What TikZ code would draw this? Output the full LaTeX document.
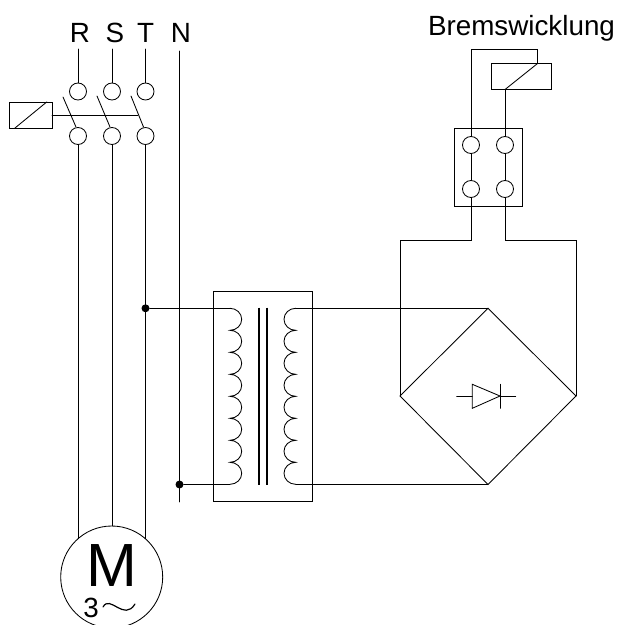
\documentclass[tikz,border=0pt]{standalone}
\usepackage{fontspec}
\setmainfont{Liberation Sans}
\tikzset{
    wire/.style={line width=0.85pt},
    terminal/.style={circle, draw, line width=0.85pt, minimum size=17pt, inner sep=0pt},
    phase/.style={inner sep=0pt, font=\fontsize{27.8}{30}\selectfont},
    dot/.style={circle, fill=black, minimum size=8pt, inner sep=0pt},
}
\begin{document}
\begin{tikzpicture}[line cap=round, x=1pt, y=-1pt]

    \useasboundingbox (0,0) rectangle (619,625);

    % labels
    \node[phase] (R) at (80, 33) {R};
    \node[phase] (S) at (115, 33) {S};
    \node[phase] (T) at (145.5, 33) {T};
    \node[phase] (N) at (181, 33) {N};
    \node[phase] (brems) at (521.5, 28) {Bremswicklung};

    \coordinate (Rtop) at (78, 49);
    \coordinate (Stop) at (112, 49);
    \coordinate (Ttop) at (145.5, 49);
    \coordinate (Ntop) at (179.5, 51);
    \coordinate (Nend) at (179.5, 502);

    % main contactor
    \node[terminal] (R1) at (78, 91.5) {};
    \node[terminal] (S1) at (112, 91.5) {};
    \node[terminal] (T1) at (145.5, 91.5) {};
    \node[terminal] (R2) at (78, 136) {};
    \node[terminal] (S2) at (112, 136) {};
    \node[terminal] (T2) at (145.5, 136) {};

    \draw[wire] (Rtop) -- (R1);
    \draw[wire] (Stop) -- (S1);
    \draw[wire] (Ttop) -- (T1);
    \draw[wire] (63, 97) -- (76, 127);
    \draw[wire] (97, 96) -- (110, 127);
    \draw[wire] (131, 96) -- (143.5, 127);

    \coordinate (coilL) at (9.5, 102);
    \coordinate (coilR) at (52, 128);
    \draw[wire] (coilL) rectangle (coilR);
    \draw[wire] (15, 128) -- (46.7, 102);
    \draw[wire] (52, 115) -- (138, 115);

    % motor
    \node[circle, draw, line width=0.85pt, minimum size=102pt, inner sep=0pt] (motor) at (111.7, 577) {};
    \node[inner sep=0pt, font=\fontsize{61}{61}\selectfont] (Mtext) at (111.5, 566) {M};
    \node[phase] (three) at (91, 608) {3};
    \coordinate (Rm) at (78, 538.7);
    \coordinate (Sm) at (112, 526);
    \coordinate (Tm) at (145.5, 538.7);
    \draw[wire] (R2) -- (Rm);
    \draw[wire] (S2) -- (Sm);
    \draw[wire] (T2) -- (Tm);
    \draw[line width=1.2pt] (103, 607) .. controls (110, 594) and (124, 622) .. (135, 604);

    \draw[wire] (Ntop) -- (Nend);

    % transformer
    \coordinate (A) at (145.5, 308.3);
    \coordinate (B) at (179.5, 484.5);
    \coordinate (P1) at (230, 308.3);
    \coordinate (P2) at (230, 484.5);
    \coordinate (Q1) at (295.7, 308.3);
    \coordinate (Q2) at (295.7, 484.5);
    \node[dot] (Adot) at (A) {};
    \node[dot] (Bdot) at (B) {};
    \draw[wire] (213.3, 291) rectangle (312.3, 501.7);
    \draw[wire] (Adot) -- (P1);
    \draw[wire] (Bdot) -- (P2);
    \draw[wire] (P1) arc (-90:90:11.7 and 11) arc (-90:90:11.7 and 11) arc (-90:90:11.7 and 11) arc (-90:90:11.7 and 11)
                     arc (-90:90:11.7 and 11) arc (-90:90:11.7 and 11) arc (-90:90:11.7 and 11) arc (-90:90:11.7 and 11);
    \draw[wire] (Q1) arc (270:90:11.7 and 11) arc (270:90:11.7 and 11) arc (270:90:11.7 and 11) arc (270:90:11.7 and 11)
                     arc (270:90:11.7 and 11) arc (270:90:11.7 and 11) arc (270:90:11.7 and 11) arc (270:90:11.7 and 11);
    \draw[line width=2.3pt, line cap=butt] (258.7, 307.7) -- (258.7, 485);
    \draw[line width=2.3pt, line cap=butt] (266.7, 307.7) -- (266.7, 485);

    % bridge
    \coordinate (top) at (488, 308.3);
    \coordinate (bottom) at (488, 484.5);
    \coordinate (left) at (400, 396);
    \coordinate (right) at (576, 396);
    \draw[wire] (top) -- (right) -- (bottom) -- (left) -- cycle;
    \draw[wire] (Q1) -- (top);
    \draw[wire] (Q2) -- (bottom);
    \draw[wire] (456.7, 396) -- (472.3, 396);
    \draw[wire] (472.3, 384.3) -- (500, 396) -- (472.3, 408.3) -- cycle;
    \draw[wire] (500, 384.3) -- (500, 408.3);
    \draw[wire] (500, 396) -- (515.7, 396);

    % brake winding
    \node[terminal] (a1) at (471, 145) {};
    \node[terminal] (b1) at (505, 145) {};
    \node[terminal] (a2) at (471, 189) {};
    \node[terminal] (b2) at (505, 189) {};
    \draw[wire] (454.3, 128) rectangle (522.3, 206.3);
    \draw[wire] (a1) -- (a2);
    \draw[wire] (b1) -- (b2);
    \draw[wire] (491.5, 63.5) rectangle (551, 89.5);
    \coordinate (windL) at (505, 89.5);
    \coordinate (windR) at (537.5, 63.5);
    \draw[wire] (windL) -- (windR);
    \draw[wire] (windR) -- (537.5, 49.5) -- (471, 49.5) -- (a1);
    \draw[wire] (windL) -- (b1);
    \draw[wire] (a2) -- (471, 240) -- (400, 240) -- (left);
    \draw[wire] (b2) -- (505, 240) -- (576, 240) -- (right);

\end{tikzpicture}
\end{document}
